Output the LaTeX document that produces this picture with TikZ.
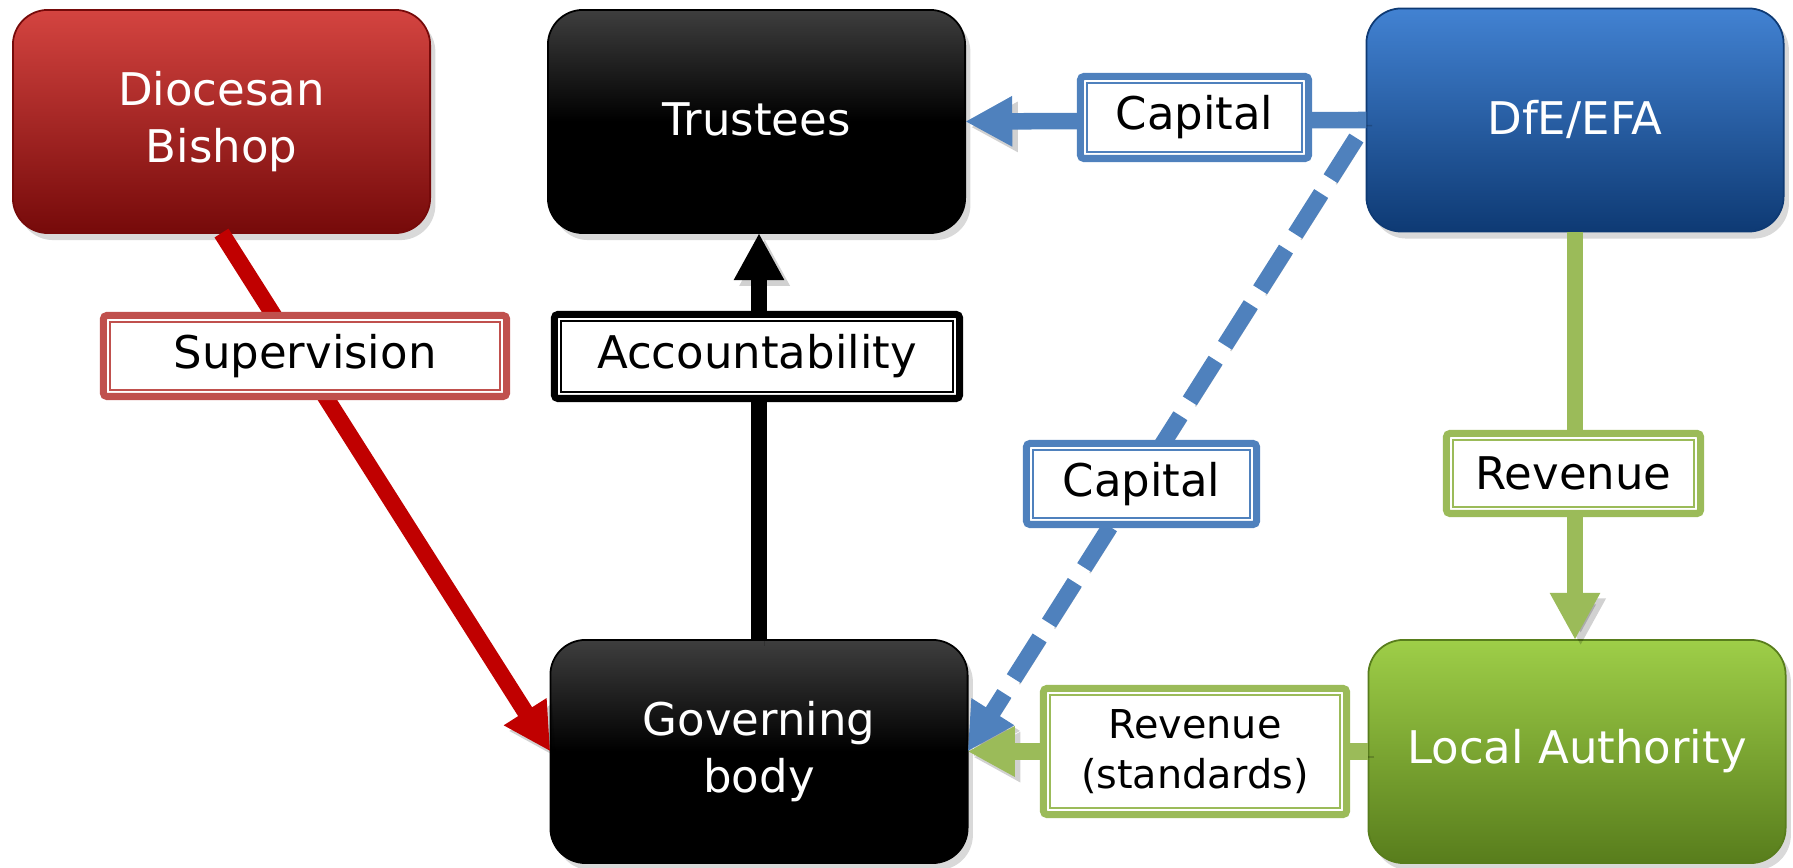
\documentclass[tikz,border=0pt]{standalone}
\usepackage{fontspec}
\setmainfont{DejaVu Sans}
\usetikzlibrary{arrows.meta,calc,shadows}
\definecolor{bTop}{RGB}{212,68,64}
\definecolor{bBot}{RGB}{118,10,10}
\definecolor{tTop}{RGB}{62,62,62}
\definecolor{dTop}{RGB}{66,130,210}
\definecolor{dBot}{RGB}{14,58,116}
\definecolor{lTop}{RGB}{158,206,72}
\definecolor{lBot}{RGB}{88,125,28}
\definecolor{arRed}{RGB}{192,0,0}
\definecolor{arBlue}{RGB}{79,129,189}
\definecolor{arGreen}{RGB}{155,187,89}
\definecolor{lbRed}{RGB}{192,80,77}
\newcommand\lblnode[8][]{%
  \node[lblbox, draw=#3, minimum width=#6, minimum height=#7, #1] (#2) at (#4,#5) {#8};
  \draw[#3, line width=0.45pt] ($(#2.south west)+(6.5,-6.5)$) rectangle ($(#2.north east)+(-6.5,6.5)$);}
\begin{document}
\begin{tikzpicture}[x=0.01cm,y=-0.01cm,
  orgbox/.style={rounded corners=0.35cm, minimum width=4.17cm, minimum height=2.23cm,
    inner sep=0pt, outer sep=0pt, text=white, align=center,
    font=\fontsize{12.8pt}{16pt}\selectfont, line width=0.5pt,
    drop shadow={shadow xshift=1.5pt, shadow yshift=-2pt, opacity=0.3}},
  lblbox/.style={rounded corners=1pt, line width=2pt, fill=white, inner sep=0pt, outer sep=0pt,
    align=center, font=\fontsize{12.8pt}{16pt}\selectfont},
  connbase/.style={line width=4.7pt, -{Triangle[length=13.4pt,width=13.4pt]}},
  conn/.style={connbase,
    preaction={draw=black, opacity=0.18, transform canvas={shift={(1.6pt,-1.6pt)}}}},
  dashconn/.style={connbase, dash pattern=on 13.7pt off 5pt,
    preaction={draw=black, opacity=0.18, dash pattern=on 13.7pt off 5pt,
      transform canvas={shift={(1.6pt,-1.6pt)}}}}
]
\useasboundingbox (0,0) rectangle (1793,868);

% boxes
\node[orgbox, draw=bBot, top color=bTop, bottom color=bBot] (bishop) at (221.5,121.5) {Diocesan\\Bishop};
\node[orgbox, draw=black, top color=tTop, bottom color=black, middle color=black, text depth=1.5pt] (trustees) at (756.5,121.5) {Trustees};
\node[orgbox, draw=dBot, top color=dTop, bottom color=dBot, text depth=1.5pt] (dfe) at (1575,120) {DfE/EFA};
\node[orgbox, draw=black, top color=tTop, bottom color=black, middle color=black] (gov) at (759,751.5) {Governing\\body};
\node[orgbox, draw=lBot, top color=lTop, bottom color=lBot] (la) at (1577,751.5) {Local Authority};

% connectors
\coordinate (dfeDash) at ($(dfe.west)+(-10,18)$);
\draw[conn, arRed] (bishop.south) -- (gov.west);
\draw[conn, black] (gov.north) -- (gov.north |- trustees.south);
\draw[conn, arBlue] (dfe.west) -- (trustees.east);
\draw[dashconn, arBlue] (dfeDash) -- (gov.east);
\draw[conn, arGreen] (dfe.south) -- (dfe.south |- la.north);
\draw[conn, arGreen] (la.west) -- (gov.east);

% labels
\lblnode{lSup}{lbRed}{305}{356}{4.03cm}{0.81cm}{Supervision}
\lblnode{lAcc}{black}{757}{356.5}{4.05cm}{0.84cm}{Accountability}
\lblnode{lCapTop}{arBlue}{1194.5}{117.5}{2.28cm}{0.82cm}{Capital}
\lblnode{lCapMid}{arBlue}{1141.5}{484}{2.30cm}{0.81cm}{Capital}
\lblnode{lRev}{arGreen}{1573.5}{473.5}{2.54cm}{0.80cm}{Revenue}
\lblnode[font=\fontsize{11.3pt}{14.2pt}\selectfont]{lRevStd}{arGreen}{1195}{751.5}{3.03cm}{1.26cm}{Revenue\\(standards)}
\end{tikzpicture}
\end{document}
